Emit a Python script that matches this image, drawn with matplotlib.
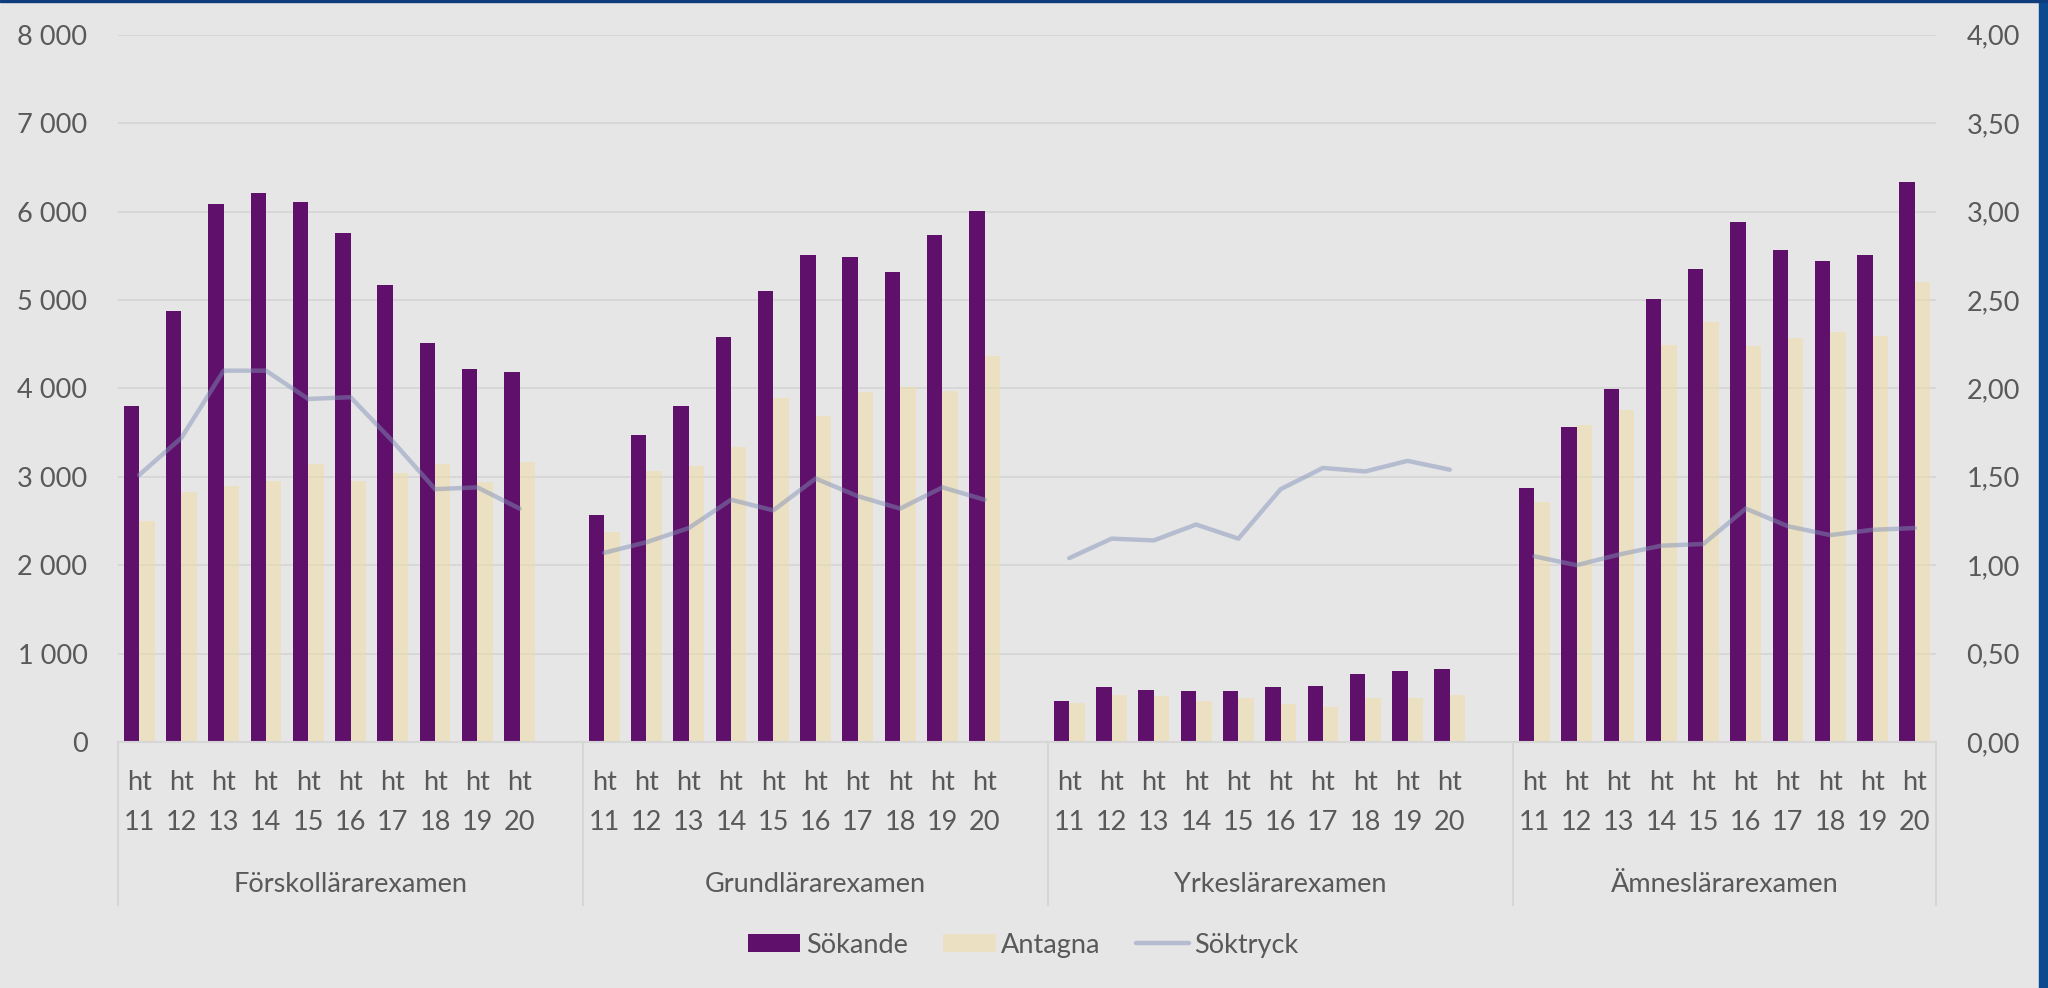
import matplotlib.pyplot as plt
import matplotlib.transforms as mtransforms
from matplotlib.patches import Patch, Rectangle
from matplotlib.lines import Line2D
from matplotlib.ticker import FuncFormatter
import numpy as np

plt.rcParams['font.family'] = ['Lato', 'DejaVu Sans']

# Data
years = ["11", "12", "13", "14", "15", "16", "17", "18", "19", "20"]
groups = ["Förskollärarexamen", "Grundlärarexamen", "Yrkeslärarexamen", "Ämneslärarexamen"]

sok_forskol = [3800, 4870, 6090, 6210, 6110, 5760, 5170, 4510, 4220, 4190]
sok_grund = [2570, 3475, 3805, 4580, 5100, 5505, 5480, 5315, 5730, 6005]
sok_yrkes = [465, 620, 585, 575, 580, 620, 630, 770, 800, 825]
sok_amnes = [2875, 3565, 3995, 5005, 5355, 5885, 5560, 5435, 5505, 6330]

ant_forskol = [2500, 2830, 2900, 2955, 3145, 2950, 3045, 3140, 2940, 3165]
ant_grund = [2380, 3070, 3120, 3335, 3890, 3690, 3960, 4015, 3975, 4365]
ant_yrkes = [440, 530, 515, 465, 500, 430, 400, 500, 500, 530]
ant_amnes = [2720, 3580, 3750, 4485, 4755, 4475, 4575, 4640, 4595, 5205]

tryck_forskol = [1.51, 1.72, 2.10, 2.10, 1.94, 1.95, 1.70, 1.43, 1.44, 1.32]
tryck_grund = [1.07, 1.13, 1.21, 1.37, 1.31, 1.49, 1.39, 1.32, 1.44, 1.37]
tryck_yrkes = [1.04, 1.15, 1.14, 1.23, 1.15, 1.43, 1.55, 1.53, 1.59, 1.54]
tryck_amnes = [1.05, 1.00, 1.06, 1.11, 1.12, 1.32, 1.22, 1.17, 1.20, 1.21]

sokande = [sok_forskol, sok_grund, sok_yrkes, sok_amnes]
antagna = [ant_forskol, ant_grund, ant_yrkes, ant_amnes]
soktryck = [tryck_forskol, tryck_grund, tryck_yrkes, tryck_amnes]

# Style
bg = "#E6E6E6"
grid_c = "#D6D6D6"
txt_c = "#595959"
purple = "#5F106B"
beige = "#F0DCA0"
beige_alpha = 0.5
line_c = "#8090B8"
line_alpha = 0.48
fs = 19.5

fig = plt.figure(figsize=(20.48, 9.88), dpi=100)
fig.patch.set_facecolor(bg)
ax = fig.add_axes([118 / 2048, 1 - 742 / 988, (1936 - 118) / 2048, (742 - 34.7) / 988])
ax.set_facecolor(bg)

slots = len(years) + 1  # one empty slot after each group
bw = 0.364
ticks = []
tick_labels = []
ax2 = ax.twinx()
for g, name in enumerate(groups):
    x = np.arange(len(years)) + g * slots
    ax.bar(x - bw / 2, sokande[g], width=bw, color=purple, zorder=2)
    ax.bar(x + bw / 2, antagna[g], width=bw, color=beige, alpha=beige_alpha, zorder=2)
    ax2.plot(x, soktryck[g], color=line_c, alpha=line_alpha, lw=3.2,
             solid_capstyle='round', solid_joinstyle='round')
    ticks += list(x)
    tick_labels += ["ht\n" + y for y in years]

n_slots = slots * len(groups) - 1
ax.set_xlim(-0.5, n_slots - 0.5)
ax2.set_xlim(-0.5, n_slots - 0.5)
ax.set_ylim(0, 8000)
ax.set_yticks(np.arange(0, 8001, 1000))
ax.yaxis.set_major_formatter(FuncFormatter(lambda v, p: f"{v:,.0f}".replace(",", " ")))
ax2.set_ylim(0, 4)
ax2.set_yticks(np.arange(0, 4.01, 0.5))
ax2.yaxis.set_major_formatter(FuncFormatter(lambda v, p: f"{v:.2f}".replace(".", ",")))

ax.yaxis.grid(True, color=grid_c, lw=1.3)
ax.set_axisbelow(True)

ax.set_xticks(ticks)
ax.set_xticklabels(tick_labels, linespacing=1.75)
ax.tick_params(axis='x', length=0, pad=20, labelsize=fs, labelcolor=txt_c)
ax.tick_params(axis='y', length=0, pad=22, labelsize=fs, labelcolor=txt_c)
ax2.tick_params(axis='y', length=0, pad=22, labelsize=fs, labelcolor=txt_c)

for a in (ax, ax2):
    for s in ("top", "left", "right"):
        a.spines[s].set_visible(False)
ax2.spines["bottom"].set_visible(False)
ax.spines["bottom"].set_color(grid_c)
ax.spines["bottom"].set_linewidth(1.5)

# group separators and group names
trans = mtransforms.blended_transform_factory(ax.transData, ax.transAxes)
bounds = [g * slots - 0.5 for g in range(len(groups))] + [n_slots - 0.5]
for b in bounds:
    ax.plot([b, b], [0, -0.23], transform=trans, clip_on=False, color=grid_c, lw=1.5)
for g, name in enumerate(groups):
    cx = (bounds[g] + bounds[g + 1]) / 2
    ax.text(cx, -0.2008, name, transform=trans, ha='center', va='center',
            fontsize=fs, color=txt_c)

handles = [Patch(facecolor=purple), Patch(facecolor=beige, alpha=beige_alpha),
           Line2D([], [], color=line_c, alpha=line_alpha, lw=3.2, solid_capstyle='round')]
fig.legend(handles, ["Sökande", "Antagna", "Söktryck"], loc='center',
           bbox_to_anchor=(0.4995, 0.0435), ncol=3, frameon=False, fontsize=fs,
           handlelength=1.95, handleheight=0.68, handletextpad=0.2,
           columnspacing=1.3, labelcolor=txt_c)

# screenshot frame
fig.add_artist(Rectangle((2039 / 2048, 0), 9 / 2048, 1, transform=fig.transFigure,
                         color="#0B4A8E", zorder=10))
fig.add_artist(Rectangle((0, 1 - 2.5 / 988), 1, 2.5 / 988, transform=fig.transFigure,
                         color="#0D3D7A", zorder=10))

fig.savefig("out.png", dpi=100, facecolor=bg)
